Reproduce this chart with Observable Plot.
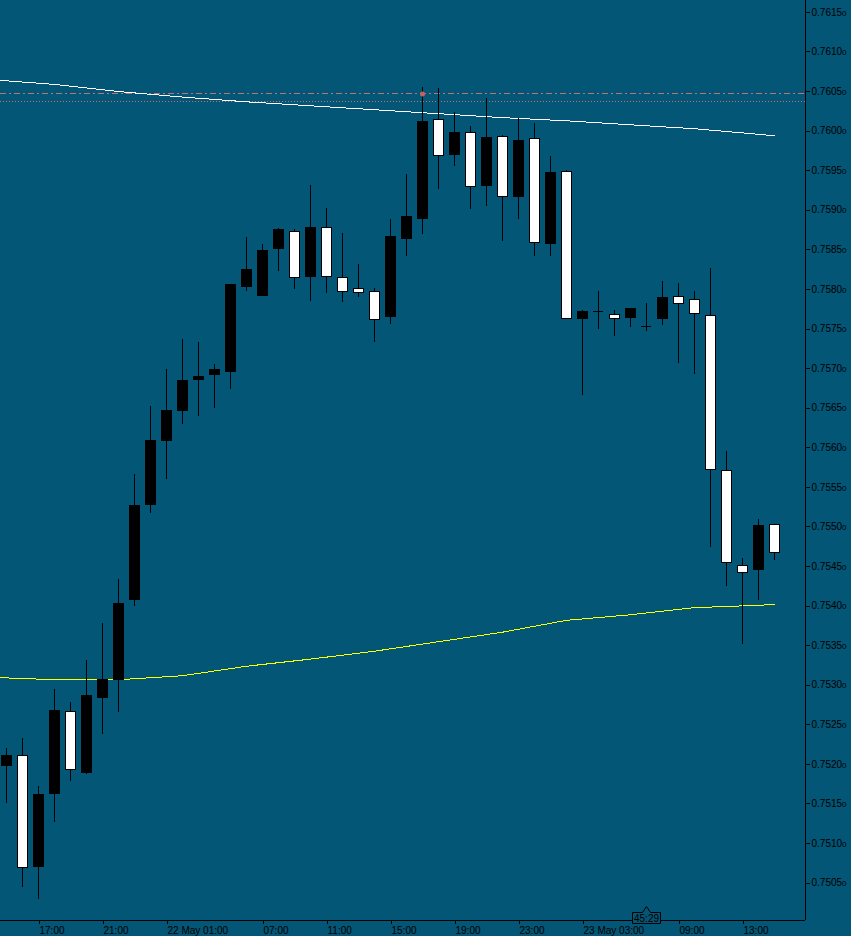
<!DOCTYPE html>
<html><head><meta charset="utf-8">
<script src="https://cdn.jsdelivr.net/npm/d3@7"></script>
<script src="https://cdn.jsdelivr.net/npm/@observablehq/plot@0.6"></script>
<style>
html,body{margin:0;padding:0;background:#035675;}
#chart svg{display:block}
</style></head><body><div id="chart"></div>
<script>
// Hourly candles, index 0 = 21 May 15:00
const open  = [0.75198,0.75211,0.75070,0.75162,0.75266,0.75189,0.75284,0.75307,0.75408,0.75528,
               0.75608,0.75646,0.75685,0.75692,0.75696,0.75803,0.75792,0.75851,0.75872,0.75816,
               0.75877,0.75815,0.75800,0.75797,0.75765,0.75864,0.75889,0.76014,0.75970,0.75998,
               0.75931,0.75992,0.75917,0.75990,0.75857,0.75948,0.75763,0.75772,0.75768,0.75764,
               0.75753,0.75763,0.75790,0.75787,0.75767,0.75571,0.75451,0.75445,0.75503];
const high  = [0.75220,0.75233,0.75172,0.75295,0.75278,0.75331,0.75378,0.75434,0.75566,0.75652,
               0.75699,0.75737,0.75733,0.75705,0.75806,0.75866,0.75857,0.75877,0.75876,0.75931,
               0.75902,0.75871,0.75832,0.75801,0.75888,0.75945,0.76055,0.76054,0.76024,0.76006,
               0.76041,0.75995,0.76016,0.76010,0.75968,0.75950,0.75774,0.75798,0.75774,0.75775,
               0.75782,0.75810,0.75808,0.75798,0.75827,0.75595,0.75460,0.75509,0.75503];
const low   = [0.75151,0.75045,0.75029,0.75126,0.75179,0.75187,0.75238,0.75265,0.75399,0.75517,
               0.75560,0.75630,0.75640,0.75650,0.75674,0.75798,0.75792,0.75823,0.75800,0.75785,
               0.75795,0.75783,0.75790,0.75733,0.75756,0.75842,0.75869,0.75926,0.75955,0.75901,
               0.75905,0.75861,0.75888,0.75842,0.75841,0.75763,0.75666,0.75749,0.75741,0.75752,
               0.75747,0.75755,0.75707,0.75693,0.75474,0.75425,0.75351,0.75407,0.75458];
const close = [0.75210,0.75069,0.75161,0.75268,0.75193,0.75286,0.75306,0.75403,0.75527,0.75608,
               0.75646,0.75684,0.75689,0.75698,0.75805,0.75825,0.75849,0.75875,0.75815,0.75878,
               0.75816,0.75797,0.75796,0.75761,0.75866,0.75891,0.76011,0.75969,0.75998,0.75930,
               0.75991,0.75917,0.75988,0.75859,0.75947,0.75763,0.75771,0.75772,0.75763,0.75775,
               0.75753,0.75789,0.75782,0.75769,0.75572,0.75455,0.75442,0.75501,0.75467];

// moving averages read at selected bars
const maIdx   = [-1,3,7,11,15,19,23,27,31,35,39,43,47,48];
const maWhite = [0.76065,0.76059,0.76050,0.76043,0.76037,0.76032,0.76027,0.76022,0.76017,0.76013,0.76008,0.76003,0.75996,0.75994];
const maYellow= [0.75310,0.75307,0.75307,0.75312,0.75324,0.75333,0.75343,0.75355,0.75367,0.75382,0.75389,0.75398,0.75401,0.75402];

const xTickIdx    = [2,6,10,16,20,24,28,32,36,42,46];
const xTickLabels = ["17:00","21:00","22 May 01:00","07:00","11:00","15:00","19:00","23:00","23 May 03:00","09:00","13:00"];
const yTicks = [0.7505,0.7510,0.7515,0.7520,0.7525,0.7530,0.7535,0.7540,0.7545,0.7550,0.7555,0.7560,
                0.7565,0.7570,0.7575,0.7580,0.7585,0.7590,0.7595,0.7600,0.7605,0.7610,0.7615];
const orderLevel = 0.76047, orderBar = 26;
const askLevel = 0.76037;
const timerText = "45:29", timerBar = 40;

const BG = "#035675";
const LVL = "#c87070";
const xDomain = [-0.375, 49.9375];
const yDomain = [0.750028, 0.76165];

const candles = open.map((o, i) => ({i, o, h: high[i], l: low[i], c: close[i]}));
const bulls = candles.filter(d => d.c > d.o);
const bears = candles.filter(d => d.c < d.o);
const dojis = candles.filter(d => d.c === d.o);
const ma = maIdx.map((i, k) => ({i, w: maWhite[k], y: maYellow[k]}));
const hw = 5 / 16;

const plot = Plot.plot({
  width: 851, height: 936,
  marginLeft: 0, marginTop: 0, marginRight: 46, marginBottom: 16,
  style: {background: BG, color: "black", fontFamily: "'Liberation Sans', Arial, sans-serif", fontSize: "10px"},
  x: {domain: xDomain, axis: null},
  y: {domain: yDomain, axis: null},
  marks: [
    Plot.ruleY([orderLevel], {stroke: LVL, strokeDasharray: "6,3,2,3"}),
    Plot.ruleY([askLevel], {stroke: LVL, strokeDasharray: "1,2"}),
    Plot.line(ma, {x: "i", y: "w", stroke: "#ffffff", strokeWidth: 1, clip: true}),
    Plot.line(ma, {x: "i", y: "y", stroke: "#ffff00", strokeWidth: 1, clip: true}),
    Plot.ruleX(candles, {x: "i", y1: "l", y2: "h", stroke: "black"}),
    Plot.rect(bulls, {x1: d => d.i - hw, x2: d => d.i + hw, y1: "o", y2: "c", fill: "black", stroke: "black"}),
    Plot.rect(bears, {x1: d => d.i - hw, x2: d => d.i + hw, y1: "o", y2: "c", fill: "white", stroke: "black"}),
    Plot.ruleY(dojis, {y: "o", x1: d => d.i - hw - 0.03, x2: d => d.i + hw + 0.03, stroke: "black"}),
    Plot.dot([{i: orderBar, p: orderLevel}], {x: "i", y: "p", r: 2.5, fill: "#c86060", stroke: null}),
    Plot.ruleX([xDomain[1]], {stroke: "black"}),
    Plot.ruleY([yDomain[0]], {stroke: "black"}),
    Plot.axisY({anchor: "right", ticks: yTicks, tickSize: 4, tickPadding: 2, tickFormat: d => d.toFixed(5), label: null}),
    Plot.axisX({anchor: "bottom", ticks: xTickIdx, tickSize: 4, tickPadding: 2, textAnchor: "start", dx: 1,
                tickFormat: i => xTickLabels[xTickIdx.indexOf(i)], label: null})
  ]
});

const svg = d3.select(plot);
svg.selectAll('g[aria-label="y-axis tick label"] text').each(function() {
  const s = this.textContent;
  this.textContent = s.slice(0, -1);
  d3.select(this).append("tspan").attr("font-size", "8px").text(s.slice(-1));
});
svg.selectAll("line, path, rect").attr("shape-rendering", "crispEdges");

// countdown label
const tx = Math.round(plot.scale("x").apply(timerBar)) + 0.5;
const g = svg.append("g");
g.append("path")
  .attr("d", `M${tx-14},912.5 L${tx-4},912.5 L${tx},906.5 L${tx+4},912.5 L${tx+14},912.5 L${tx+14},923.5 L${tx-14},923.5 Z`)
  .attr("fill", BG).attr("stroke", "black");
g.append("text").attr("x", tx).attr("y", 922).attr("text-anchor", "middle")
  .attr("font-size", "10px").attr("fill", "black").text(timerText);

document.getElementById("chart").appendChild(plot);
</script>
</body></html>
